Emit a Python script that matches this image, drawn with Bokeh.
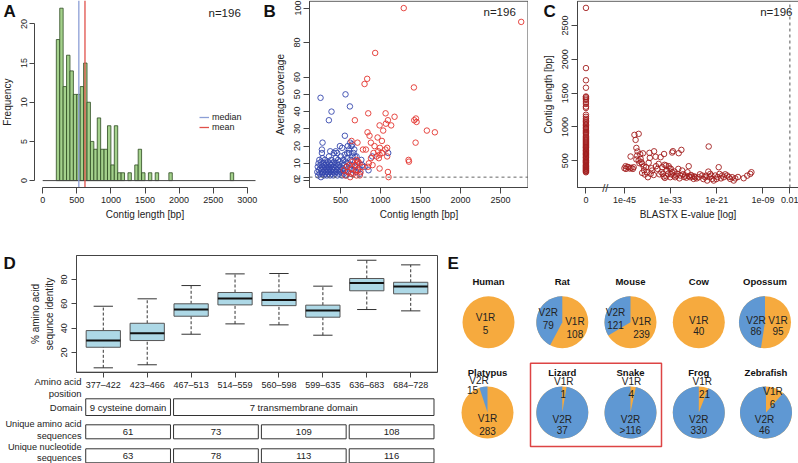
import math
from bokeh.plotting import figure
from bokeh.models import Range1d, Legend, LegendItem
from bokeh.layouts import row, column
from bokeh.embed import file_html
from bokeh.resources import INLINE
from bokeh.core.properties import value

FONT = "Liberation Sans"

# ---------------- data ----------------
# A: histogram of contig length
hist_bin_start = 200
hist_bin_width = 50
hist_counts = [18, 22, 12, 16, 14, 11, 11, 12, 15, 10,
               5, 4, 8, 4, 4, 7, 2, 7, 1, 1,
               0, 1, 0, 2, 4, 1, 0, 1, 0, 1,
               0, 0, 0, 1, 0, 0, 0, 0, 0, 0,
               0, 0, 0, 0, 0, 0, 0, 0, 0, 0,
               0, 1]
len_median = 530
len_mean = 620
n_contigs = 196
a_xticks = [0, 500, 1000, 1500, 2000, 2500, 3000]
a_yticks = [0, 5, 10, 15, 20]

# B: coverage vs length
red_len = [1290, 2758, 933, 833, 800, 1417, 846, 1063, 1175, 1442, 1450, 1421, 1092, 679, 988,
           1133, 1067, 1033, 837, 1579, 1679, 963, 862, 1017, 712, 637, 879, 1438, 925, 992,
           817, 971, 1083, 912, 988, 1083, 979, 1350, 1355, 721, 704, 854, 737, 988, 1092,
           1100, 842, 560, 590, 620, 640, 660, 680, 700, 720, 750, 610, 650, 700, 770,
           540, 580, 630, 690, 740, 880, 950, 900, 1020, 1060, 780]
red_cov = [100, 92, 74, 59, 56, 54, 39, 39, 37, 36, 34, 35, 35, 35, 32,
           32, 33, 29, 28, 29, 28, 25, 26, 23, 22, 23, 22, 22, 20, 19,
           18, 17, 19, 16, 15, 14, 13, 12, 11, 11, 10, 10, 10, 7, 5,
           2, 8, 3, 5, 2, 7, 4, 9, 3, 6, 5, 9, 11, 12, 8,
           6, 8, 4, 6, 3, 13, 14, 9, 16, 18, 18]
blue_len = [250, 562, 617, 387, 354, 275, 554, 492, 646, 637, 1096, 896, 267, 267, 371,
            417, 458, 583, 662, 604, 620, 440, 520, 700, 800, 850, 760, 590, 680,
            210, 215, 220, 225, 230, 235, 240, 245, 250, 255, 260, 262, 268, 270, 275,
            280, 285, 288, 292, 296, 300, 305, 310, 312, 318, 322, 325, 330, 334, 338,
            342, 346, 350, 355, 358, 362, 366, 370, 375, 380, 384, 388, 392, 396, 400,
            405, 410, 415, 420, 425, 430, 436, 440, 445, 450, 456, 460, 466, 470, 476,
            480, 486, 490, 496, 500, 506, 512, 518, 522, 528, 534, 540, 546, 552, 558,
            564, 570, 576, 582, 590, 598, 606, 614, 622, 630, 640, 650, 660, 672, 684,
            696, 710, 726, 744, 770]
blue_cov = [48, 50, 43, 40, 35, 22, 26, 20, 21, 20, 16, 14, 18, 16, 17,
            16, 16, 16, 16, 18, 22, 17, 19, 14, 8, 6, 12, 20, 14,
            5, 8, 3, 10, 6, 12, 4, 7, 9, 2, 11, 6, 4, 8, 13,
            5, 7, 10, 3, 9, 6, 12, 4, 8, 5, 10, 7, 3, 9, 6,
            11, 4, 8, 14, 5, 7, 10, 3, 6, 9, 12, 4, 7, 5, 10,
            8, 3, 6, 11, 9, 4, 7, 13, 5, 8, 10, 3, 6, 12, 9,
            4, 7, 11, 5, 8, 14, 6, 3, 10, 7, 12, 4, 9, 15, 6,
            11, 3, 8, 13, 5, 10, 16, 7, 12, 4, 9, 14, 6, 18, 8,
            5, 11, 7, 4, 9]
b_xticks = [500, 1000, 1500, 2000, 2500]
b_yticks = [0, 2, 10, 20, 30, 40, 50, 60, 80, 100]
b_cov_cutoff = 2

# C: contig length vs BLASTX e-value (log10 exponent); e-value 0 drawn at the axis-break position
c_zero_len = [2760, 1870, 1690, 1580, 1450, 1440, 1420, 1400, 1370, 1340, 1300, 1280, 1180, 1150,
              1120, 1100, 1080, 1060, 1040, 1020, 1000, 985, 970, 950, 930, 915, 900, 880, 860,
              845, 830, 815, 800, 785, 770, 755, 740, 725, 710, 700, 690, 675, 660, 650, 640,
              625, 610, 600, 590, 575, 560, 550, 540, 525, 510, 500, 490, 480, 470, 455, 440,
              430, 420, 410, 400, 390, 380, 370, 360, 350, 340, 330]
c_exp = [-44.7, -44.6, -45, -43.9, -43.2, -42.6, -42.8, -43.4, -42.4, -41.3, -42.1, -41.6, -41.7,
         -40.9, -40.8, -41.1, -40.4, -41.3, -40.4, -39.7, -40, -39.4, -38.5, -38.4, -38, -38.2,
         -37.8, -38.9, -35.6, -36.1, -35.2, -35.4, -35, -34.8, -34.5, -34.2, -33.5, -33.9, -32.9,
         -32.6, -33.7, -33.1, -32.2, -31.8, -32.6, -32.4, -30.9, -30.2, -31.3, -30, -30.5, -29.2,
         -28.3, -27.9, -27.4, -26.6, -27, -28.3, -25.7, -24.8, -24, -23.5, -22.9, -22.7, -22.2,
         -21.8, -23.1, -21.4, -20.5, -20.3, -19.6, -19.2, -18.3, -17.5, -17, -16.6, -14, -12.3, -12,
         -44.2, -43.6, -41.9, -40.6, -39.9, -39.1, -38.7, -37.4, -36.8, -36.4, -35.9, -34.6, -34.1,
         -33.3, -32.8, -32, -31.5, -31, -30.7, -29.8, -29.5, -28.9, -28.6, -27.7, -26.9, -26.2,
         -25.4, -24.5, -23.8, -23.2, -22.4, -21.1, -20.8, -19.9, -18.8, -17.9, -16.2, -15.5, -13.1,
         -36.9, -37.3, -40.2, -41.9, -34.7]
c_len = [420, 380, 390, 405, 395, 405, 380, 563, 883, 898, 809, 637, 578,
         597, 528, 464, 454, 504, 321, 297, 415, 405, 617, 543, 390, 306,
         356, 257, 553, 454, 405, 331, 306, 267, 247, 430, 420, 356, 380,
         331, 306, 257, 282, 257, 622, 642, 612, 661, 306, 356, 282, 282,
         272, 257, 267, 257, 232, 420, 257, 282, 257, 208, 257, 306, 232,
         208, 711, 282, 405, 306, 282, 257, 282, 232, 257, 208, 242, 306, 331,
         410, 385, 520, 480, 360, 330, 470, 290, 420, 380, 300, 440, 270,
         390, 300, 340, 280, 380, 240, 300, 260, 250, 330, 290, 270, 240,
         300, 230, 280, 340, 280, 230, 260, 240, 300, 260, 240, 260, 280,
         560, 640, 610, 690, 600]
c_tick_exp = [-45, -33, -21, -9, -2]
c_tick_labels = ["1e-45", "1e-33", "1e-21", "1e-09", "0.01"]
c_yticks = [500, 1000, 1500, 2000, 2500]
c_evalue_cutoff_exp = -2

# D: box plots of % amino acid identity per position window
pos_labels = ["377–422", "423–466", "467–513", "514–559", "560–598", "599–635", "636–683", "684–728"]
whisk_lo = [7.4, 9.9, 35, 43.5, 42.7, 34.2, 55.3, 54.2]
q1 = [24.3, 29.8, 49.8, 59.1, 58.5, 49.0, 70.7, 68.2]
med = [29.8, 35.8, 55.3, 64.3, 63.2, 54.5, 77.0, 74.2]
q3 = [38.0, 44.0, 60.0, 69.3, 69.5, 58.9, 80.8, 77.7]
whisk_hi = [58.0, 64.1, 75.0, 84.6, 84.9, 74.5, 95.8, 92.0]
d_yticks = [20, 40, 60, 80]

domain_names = ["9 cysteine domain", "7 transmembrane domain"]
domain_first = [1, 3]
domain_last = [2, 8]
group_first = [1, 3, 5, 7]
group_last = [2, 4, 6, 8]
aa_unique = [61, 73, 109, 108]
nt_unique = [63, 78, 113, 116]

# E: pies of V1R / V2R counts
species = ["Human", "Rat", "Mouse", "Cow", "Opossum", "Platypus", "Lizard", "Snake", "Frog", "Zebrafish"]
v1r = [5, 108, 239, 40, 95, 283, 1, 4, 21, 6]
v2r = [0, 79, 121, 0, 86, 15, 37, 116, 330, 46]
v2r_prefix = ["", "", "", "", "", "", "", ">", "", ""]

# ---------------- styles ----------------
GREEN_FILL = "#a4d18c"
GREEN_LINE = "#2c4a1f"
MED_C = "#8c9fd6"
MEAN_C = "#e0504a"
BLUE_PT = "#3446ad"
RED_PT = "#e3342f"
DARKRED_PT = "#a11d1d"
AX_C = "#444444"
TXT_C = "#222222"
ORANGE = "#f6aa3e"
PIEBLUE = "#5f98d3"


class Panel:
    """A figure whose frame fills the whole canvas; the plot region is mapped to given page pixels."""

    def __init__(self, page_left, page_top, W, H, reg, dat):
        l, r, t, b = reg
        dl, dr, db, dt = dat
        self.sx = (r - l) / (dr - dl)
        self.sy = (b - t) / (dt - db)
        self.l, self.b, self.dl, self.db = l, b, dl, db
        self.dr, self.dt = dr, dt
        xr = Range1d(dl - (l - page_left) / self.sx, dr + (page_left + W - r) / self.sx)
        yr = Range1d(db - (page_top + H - b) / self.sy, dt + (t - page_top) / self.sy)
        self.p = figure(width=W, height=H, x_range=xr, y_range=yr, output_backend="svg",
                        toolbar_location=None, min_border_left=0, min_border_right=0,
                        min_border_top=0, min_border_bottom=0)
        self.p.background_fill_color = "white"
        self.p.border_fill_color = "white"
        self.p.outline_line_color = None
        self.p.grid.visible = False

    def fx(self, px):
        return self.dl + (px - self.l) / self.sx

    def fy(self, py):
        return self.db + (self.b - py) / self.sy

    def text(self, page_x, page_y, t, size="10px", bold=False, align="left", angle=0.0,
             color=TXT_C):
        self.p.text(x=[self.fx(page_x)], y=[self.fy(page_y)], text=[t], angle=angle,
                    text_font=value(FONT), text_font_size=size,
                    text_font_style="bold" if bold else "normal", text_align=align,
                    text_baseline="middle", text_color=color)

    def box(self):
        self.p.quad(left=[self.dl], right=[self.dr], bottom=[self.db], top=[self.dt],
                    fill_color=None, line_color=AX_C, line_width=1)

    def axes(self, xticks, yticks, xbounds=None, ybounds=None):
        p = self.p
        p.xaxis.fixed_location = self.db
        p.yaxis.fixed_location = self.dl
        p.xaxis.ticker = xticks
        p.yaxis.ticker = yticks
        p.xaxis.bounds = xbounds if xbounds else (self.dl, self.dr)
        p.yaxis.bounds = ybounds if ybounds else (self.db, self.dt)
        for ax in p.axis:
            ax.axis_line_color = AX_C
            ax.major_tick_line_color = AX_C
            ax.minor_tick_line_color = None
            ax.major_tick_in = 0
            ax.major_tick_out = 6
            ax.major_label_text_font = FONT
            ax.major_label_text_font_size = "9px"
            ax.major_label_text_color = TXT_C
            ax.major_label_standoff = 3
            ax.axis_label_text_font = FONT
            ax.axis_label_text_font_size = "10px"
            ax.axis_label_text_font_style = "normal"
            ax.axis_label_text_color = TXT_C
            ax.axis_label_standoff = 3
        p.yaxis.major_label_orientation = "vertical"


# ---------------- panel A ----------------
A = Panel(0, 0, 263, 226, (34, 255, 0.8, 187), (-120, 3120, -0.88, 22.88))
pA = A.p
lefts, rights, tops = [], [], []
for i, c in enumerate(hist_counts):
    if c > 0:
        lefts.append(hist_bin_start + i * hist_bin_width)
        rights.append(hist_bin_start + (i + 1) * hist_bin_width)
        tops.append(c)
pA.quad(left=lefts, right=rights, top=tops, bottom=0, fill_color=GREEN_FILL,
        line_color=GREEN_LINE, line_width=0.8)
pA.segment(x0=[a_xticks[0]], y0=[0], x1=[A.dr], y1=[0], line_color=AX_C, line_width=1)
r_med = pA.segment(x0=[len_median], y0=[A.db], x1=[len_median], y1=[A.p.y_range.end],
                   line_color=MED_C, line_width=1.3)
r_mean = pA.segment(x0=[len_mean], y0=[A.db], x1=[len_mean], y1=[A.p.y_range.end],
                    line_color=MEAN_C, line_width=1.3)
legA = Legend(items=[LegendItem(label="median", renderers=[r_med]),
                     LegendItem(label="mean", renderers=[r_mean])],
              location=(199, 94), label_text_font=FONT, label_text_font_size="9px",
              label_text_color=TXT_C, glyph_width=10, glyph_height=10, label_height=10,
              label_standoff=3, padding=0, spacing=0, margin=0,
              border_line_color=None, background_fill_alpha=0)
pA.add_layout(legA)
A.axes(a_xticks, a_yticks, xbounds=(a_xticks[0], a_xticks[-1]), ybounds=(a_yticks[0], a_yticks[-1]))
pA.xaxis.axis_label = "Contig length [bp]"
pA.yaxis.major_tick_out = 5
pA.yaxis.major_label_standoff = 2
A.text(7, A.b - (10 - A.db) * A.sy, "Frequency", align="center", angle=math.pi / 2)
A.text(3, 10.5, "A", size="17px", bold=True, color="#111111")
A.text(208, 12, "n=%d" % n_contigs, size="11.5px")

# ---------------- panel B ----------------
B = Panel(263, 0, 265, 226, (309, 527.5, 0.7, 187), (112, 2843, -4, 104))
pB = B.p
B.box()
pB.scatter(blue_len, blue_cov, marker="circle", size=5.5, fill_color=None,
           line_color=BLUE_PT, line_width=0.9)
pB.scatter(red_len, red_cov, marker="circle", size=5.5, fill_color=None,
           line_color=RED_PT, line_width=0.9)
pB.segment(x0=[B.dl], y0=[b_cov_cutoff], x1=[B.dr], y1=[b_cov_cutoff], line_color="#666666",
           line_dash="3 3", line_width=1)
B.axes(b_xticks, b_yticks)
pB.xaxis.axis_label = "Contig length [bp]"
pB.yaxis.axis_label = "Average coverage"
pB.yaxis.axis_label_standoff = 6
B.text(263, 10.5, "B", size="17px", bold=True, color="#111111")
B.text(483, 11, "n=%d" % n_contigs, size="11.5px")

# ---------------- panel C ----------------
ZERO_POS = -55
C = Panel(528, 0, 270, 226, (577, 798, 0.7, 187), (-57.2, 0.24, 105, 2859))
pC = C.p
C.box()
pC.scatter([ZERO_POS] * len(c_zero_len), c_zero_len, marker="circle", size=5.5,
           fill_color=None, line_color=DARKRED_PT, line_width=0.9)
pC.scatter(c_exp, c_len, marker="circle", size=5.5, fill_color=None,
           line_color=DARKRED_PT, line_width=0.9)
pC.segment(x0=[c_evalue_cutoff_exp], y0=[C.db], x1=[c_evalue_cutoff_exp], y1=[C.dt],
           line_color="#555555", line_dash="3 3", line_width=1)
C.axes([ZERO_POS] + c_tick_exp, c_yticks)
overrides = {ZERO_POS: "0"}
for t, lab in zip(c_tick_exp, c_tick_labels):
    overrides[t] = lab
pC.xaxis.major_label_overrides = overrides
pC.xaxis.axis_label = "BLASTX E-value [log]"
pC.yaxis.axis_label = "Contig length [bp]"
pC.yaxis.axis_label_standoff = 6
pC.text(x=[(ZERO_POS + c_tick_exp[0]) / 2], y=[C.db], text=["//"], text_font=value(FONT),
        text_font_size="11px", text_align="center", text_baseline="middle", text_color="#333333")
C.text(543, 10.5, "C", size="17px", bold=True, color="#111111")
C.text(792, 11, "n=%d" % n_contigs, size="11.5px", align="right")

# ---------------- panel D (box plots + table) ----------------
D = Panel(0, 226, 445, 237, (76, 437, 255, 371.7), (0.39, 8.61, 3.8, 99.7))
pD = D.p
D.box()
xs = list(range(1, len(pos_labels) + 1))
BOX_HW = 0.39
CAP_HW = 0.22
pD.segment(xs, q3, xs, whisk_hi, line_color="#333333", line_dash="3 2", line_width=1)
pD.segment(xs, whisk_lo, xs, q1, line_color="#333333", line_dash="3 2", line_width=1)
pD.segment([x - CAP_HW for x in xs], whisk_hi, [x + CAP_HW for x in xs], whisk_hi,
           line_color="#333333", line_width=1)
pD.segment([x - CAP_HW for x in xs], whisk_lo, [x + CAP_HW for x in xs], whisk_lo,
           line_color="#333333", line_width=1)
pD.quad(left=[x - BOX_HW for x in xs], right=[x + BOX_HW for x in xs], bottom=q1, top=q3,
        fill_color="#add8e6", line_color="#555555", line_width=1)
pD.segment([x - BOX_HW for x in xs], med, [x + BOX_HW for x in xs], med,
           line_color="#111111", line_width=2)
D.axes(xs, d_yticks)
pD.xaxis.major_label_overrides = {x: lab for x, lab in zip(xs, pos_labels)}
pD.yaxis.axis_label = "% amino acid\nsequnce identity"
pD.xaxis.major_tick_out = 5
pD.yaxis.major_tick_out = 5
pD.yaxis.major_label_standoff = 4
pD.yaxis.axis_label_standoff = 4
D.text(81, 381, "Amino acid", size="9.5px", align="right")
D.text(81, 393, "position", size="9.5px", align="right")
D.text(3, 263, "D", size="17px", bold=True, color="#111111")

ROW_DOM = (398.3, 415.0)
ROW_AA = (424.3, 438.3)
ROW_NT = (448.3, 462.3)
EDGE_L, EDGE_R = 0.4, 0.53


def table_row(firsts, lasts, texts, rows):
    top, bot = D.fy(rows[0]), D.fy(rows[1])
    pD.quad(left=[f - EDGE_L for f in firsts], right=[l + EDGE_R for l in lasts],
            top=top, bottom=bot, fill_color="white", line_color="#333333", line_width=1)
    pD.text(x=[(f - EDGE_L + l + EDGE_R) / 2 for f, l in zip(firsts, lasts)],
            y=[(top + bot) / 2] * len(texts), text=[str(t) for t in texts],
            text_font=value(FONT), text_font_size="9.5px", text_align="center",
            text_baseline="middle", text_color=TXT_C)


table_row(domain_first, domain_last, domain_names, ROW_DOM)
table_row(group_first, group_last, aa_unique, ROW_AA)
table_row(group_first, group_last, nt_unique, ROW_NT)
D.text(82, 406.7, "Domain", size="9.5px", align="right")
D.text(81, 423.3, "Unique amino acid", size="9.2px", align="right")
D.text(81, 435.0, "sequences", size="9.2px", align="right")
D.text(81, 446.5, "Unique nucleotide", size="9.2px", align="right")
D.text(81, 457.0, "sequences", size="9.2px", align="right")

# ---------------- panel E ----------------
E = Panel(445, 226, 353, 237, (445, 798, 226, 463), (445, 798, 0, 237))
pE = E.p
pie_cx = [488, 561.8, 630, 698.3, 764.5, 487, 561.8, 630, 698.3, 765.5]
pie_cy = [321.7] * 5 + [412.0] * 5
PIE_R = 26
v1_word = [(-3, -4.4), (12.6, -1), (11, -1), (0, -1.7), (13, -1.7), (0, 6), (1.5, -30.8),
           (1, -30.8), (3.4, -30.8), (7, -20.8)]
v1_num = [(0, 12), (0, 12.6), (0, 12.6), (0, 10), (0, 10), (0, 12.4), (-0.5, 12.6),
          (-0.3, 12.6), (2.3, 12.6), (-0.5, 12)]
v2_word = [None, (-14, -10), (-15, -10), None, (-9, -1.7), (-8.4, -31.6), (0, 6.8),
           (0, 6.8), (0, 6.8), (-1.5, 6.8)]
v2_num = [None, (0, 12.6), (0, 12.6), None, (0, 10), (-6.6, 9), (0, 11), (0, 11),
          (0, 11), (0, 11)]

pE.circle(x=pie_cx, y=[E.fy(c) for c in pie_cy], radius=PIE_R, fill_color=ORANGE, line_color=None)
wx, wy, ws, we = [], [], [], []
for i in range(len(species)):
    if v2r[i] > 0:
        frac = v2r[i] / (v1r[i] + v2r[i])
        wx.append(pie_cx[i])
        wy.append(E.fy(pie_cy[i]))
        ws.append(math.pi / 2)
        we.append(math.pi / 2 + 2 * math.pi * frac)
pE.wedge(x=wx, y=wy, radius=PIE_R, start_angle=ws, end_angle=we, fill_color=PIEBLUE,
         line_color=None)

tx, ty, tt = [], [], []
for i in range(len(species)):
    cx, cy = pie_cx[i], pie_cy[i]
    dx, dy = v1_word[i]
    tx.append(cx + dx); ty.append(E.fy(cy + dy)); tt.append("V1R")
    ndx, ndy = v1_num[i]
    tx.append(cx + dx + ndx); ty.append(E.fy(cy + dy + ndy)); tt.append(str(v1r[i]))
    if v2r[i] > 0:
        dx, dy = v2_word[i]
        tx.append(cx + dx); ty.append(E.fy(cy + dy)); tt.append("V2R")
        ndx, ndy = v2_num[i]
        tx.append(cx + dx + ndx); ty.append(E.fy(cy + dy + ndy)); tt.append(v2r_prefix[i] + str(v2r[i]))
pE.text(x=tx, y=ty, text=tt, text_font=value(FONT), text_font_size="10px",
        text_align="center", text_baseline="middle", text_color=TXT_C)
pE.text(x=pie_cx, y=[E.fy(c - 40.5) for c in pie_cy], text=species, text_font=value(FONT),
        text_font_size="9.5px", text_font_style="bold", text_align="center",
        text_baseline="middle", text_color="#111111")
# highlight box around the squamates (Lizard, Snake)
pE.quad(left=[pie_cx[6] - 31.8], right=[pie_cx[7] + 31], top=[E.fy(pie_cy[6] - 49.3)],
        bottom=[E.fy(pie_cy[6] + 34)], fill_color=None, line_color="#dd4444", line_width=1.5)
E.text(447, 263, "E", size="17px", bold=True, color="#111111")
pE.xaxis.visible = False
pE.yaxis.visible = False

layout = column(row(pA, pB, pC), row(pD, pE))
open("out.html", "w").write(file_html(layout, INLINE))
